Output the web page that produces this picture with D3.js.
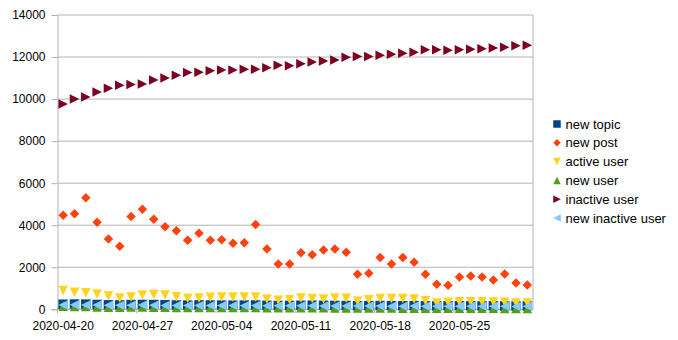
<!DOCTYPE html>
<html>
<head>
<meta charset="utf-8">
<script src="https://d3js.org/d3.v7.min.js"></script>
<style>
  body { margin: 0; background: #fff; }
  text { font-family: "Liberation Sans", Arial, sans-serif; fill: #000; }
</style>
</head>
<body>
<svg id="chart" width="678" height="340"></svg>
<script>
  var dates = ["2020-04-20","2020-04-21","2020-04-22","2020-04-23","2020-04-24","2020-04-25","2020-04-26",
               "2020-04-27","2020-04-28","2020-04-29","2020-04-30","2020-05-01","2020-05-02","2020-05-03",
               "2020-05-04","2020-05-05","2020-05-06","2020-05-07","2020-05-08","2020-05-09","2020-05-10",
               "2020-05-11","2020-05-12","2020-05-13","2020-05-14","2020-05-15","2020-05-16","2020-05-17",
               "2020-05-18","2020-05-19","2020-05-20","2020-05-21","2020-05-22","2020-05-23","2020-05-24",
               "2020-05-25","2020-05-26","2020-05-27","2020-05-28","2020-05-29","2020-05-30","2020-05-31"]
  var tickLabels = ["2020-04-20","2020-04-27","2020-05-04","2020-05-11","2020-05-18","2020-05-25"]
  var yTicks = [0, 2000, 4000, 6000, 8000, 10000, 12000, 14000]

  var newTopic = [240,250,245,230,215,210,225,230,225,215,205,200,210,205,200,195,200,205,190,180,185,
                  190,195,190,185,180,170,175,180,175,170,175,165,160,165,170,165,160,165,160,155,160]
  var newPost = [4470,4550,5310,4140,3340,3000,4420,4760,4280,3930,3740,3280,3620,3290,3310,3140,3170,4030,2870,2160,2160,
                 2690,2600,2820,2870,2710,1670,1710,2470,2160,2470,2240,1670,1190,1140,1540,1580,1540,1390,1680,1250,1160]
  var activeUser = [900,810,790,730,630,540,590,680,700,680,600,520,540,570,590,590,590,590,490,430,460,
                    540,510,490,540,520,380,460,510,510,510,490,410,300,330,360,360,360,350,330,300,300]
  var newUser = [140,135,130,110,100,100,105,110,100,95,90,85,90,85,80,80,85,80,75,70,70,
                 75,70,70,65,65,60,60,65,60,55,55,50,45,50,50,45,45,45,40,40,40]
  var inactiveUser = [9770,10000,10100,10340,10510,10660,10690,10720,10910,11000,11130,11260,11280,11350,11380,11380,11420,11420,11490,11610,11590,
                      11680,11770,11810,11860,11990,12020,12020,12080,12130,12180,12230,12350,12350,12320,12350,12370,12400,12430,12460,12540,12560]
  var newInactiveUser = [210,215,210,200,195,190,195,200,195,185,180,180,185,180,175,175,170,175,170,165,165,
                         170,165,160,160,160,155,155,160,150,150,155,145,145,150,145,140,145,140,140,135,140]

  var seriesNames = ["new topic", "new post", "active user", "new user", "inactive user", "new inactive user"]
  var seriesValues = [newTopic, newPost, activeUser, newUser, inactiveUser, newInactiveUser]
  var colors = ["#004586", "#ff420e", "#ffd320", "#579d1c", "#7e0021", "#83caff"]
  var shapes = ["square", "diamond", "down", "up", "right", "left"]

  var svg = d3.select('#chart')
  var plotLeft = 57.5, plotRight = 533, plotTop = 15, plotBottom = 309.3

  var x = d3.scaleBand().domain(dates).range([plotLeft, plotRight]).padding(0)
  var y = d3.scaleLinear().domain([0, 14000]).range([plotBottom, plotTop])

  // marker path for a box of size s centred at 0,0
  function marker(shape, s) {
    var h = s / 2
    if (shape == "square") return "M" + (-h) + "," + (-h) + "h" + s + "v" + s + "h" + (-s) + "Z"
    if (shape == "diamond") return "M0," + (-h) + "L" + h + ",0L0," + h + "L" + (-h) + ",0Z"
    if (shape == "down") return "M" + (-h) + "," + (-h) + "L" + h + "," + (-h) + "L0," + h + "Z"
    if (shape == "up") return "M" + (-h) + "," + h + "L" + h + "," + h + "L0," + (-h) + "Z"
    if (shape == "right") return "M" + (-h) + "," + (-h) + "L" + h + ",0L" + (-h) + "," + h + "Z"
    return "M" + h + "," + (-h) + "L" + (-h) + ",0L" + h + "," + h + "Z"
  }

  // grid lines
  svg.append('g').selectAll('line')
    .data(yTicks)
    .enter().append('line')
    .attr('x1', plotLeft).attr('x2', plotRight)
    .attr('y1', function(d) { return y(d) }).attr('y2', function(d) { return y(d) })
    .attr('stroke', '#b3b3b3').attr('stroke-width', 1)

  // right border of plot area
  svg.append('line')
    .attr('x1', plotRight).attr('x2', plotRight).attr('y1', plotTop).attr('y2', plotBottom)
    .attr('stroke', '#b3b3b3')

  // y axis
  var yAxis = d3.axisLeft(y).tickValues(yTicks).tickSize(6).tickPadding(6).tickFormat(d3.format('d'))
  var gy = svg.append('g').attr('transform', 'translate(' + plotLeft + ',0)').call(yAxis)
  gy.select('.domain').attr('stroke', '#b3b3b3')
  gy.selectAll('.tick line').attr('stroke', '#b3b3b3')
  gy.selectAll('text').style('font-size', '12px').style('font-family', '"Liberation Sans", Arial, sans-serif')

  // x axis: category axis, ticks on week boundaries, labels at category centre
  var gx = svg.append('g').attr('transform', 'translate(0,' + plotBottom + ')')
  gx.append('line').attr('x1', plotLeft).attr('x2', plotRight).attr('stroke', '#b3b3b3')
  gx.selectAll('.tk')
    .data(tickLabels)
    .enter().append('line')
    .attr('class', 'tk')
    .attr('x1', function(d) { return x(d) }).attr('x2', function(d) { return x(d) })
    .attr('y1', -2).attr('y2', 4)
    .attr('stroke', '#b3b3b3')
  gx.selectAll('text')
    .data(tickLabels)
    .enter().append('text')
    .attr('x', function(d) { return x(d) + x.bandwidth() / 2 })
    .attr('y', 21)
    .attr('text-anchor', 'middle')
    .style('font-size', '12px')
    .text(function(d) { return d })

  // series markers
  seriesValues.forEach(function(vals, k) {
    svg.append('g').selectAll('path')
      .data(vals)
      .enter().append('path')
      .attr('d', marker(shapes[k], 9.5))
      .attr('transform', function(d, i) {
        return 'translate(' + (x(dates[i]) + x.bandwidth() / 2) + ',' + y(d) + ')'
      })
      .attr('fill', colors[k])
  })

  // legend
  var legend = svg.append('g').selectAll('g')
    .data(seriesNames)
    .enter().append('g')
    .attr('transform', function(d, i) { return 'translate(557,' + (124 + i * 18.8) + ')' })
  legend.append('path')
    .attr('d', function(d, i) { return marker(shapes[i], 7.5) })
    .attr('fill', function(d, i) { return colors[i] })
  legend.append('text')
    .attr('x', 8.5)
    .attr('dy', '0.35em')
    .style('font-size', '13px')
    .text(function(d) { return d })
</script>
</body>
</html>
